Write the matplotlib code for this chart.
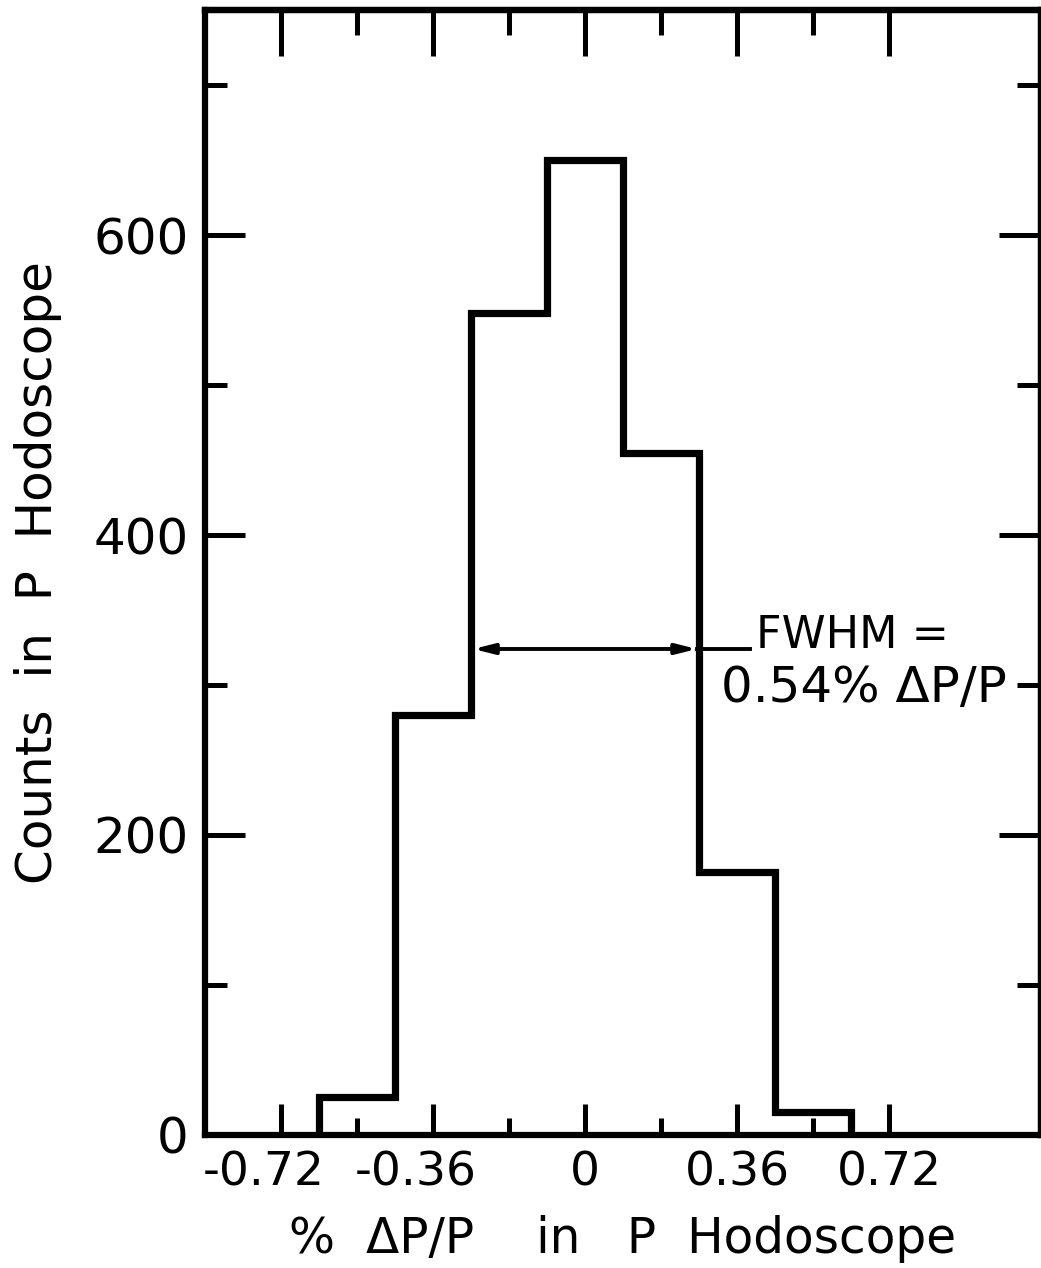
import matplotlib
matplotlib.use("Agg")
import matplotlib.pyplot as plt
import matplotlib.transforms as mtransforms
import numpy as np

plt.rcParams["font.family"] = ["DejaVu Sans"]
plt.rcParams["axes.unicode_minus"] = False

# histogram of momentum spread in the P hodoscope
bin_centers = [-0.54, -0.36, -0.18, 0.0, 0.18, 0.36, 0.54]
counts = [25, 280, 548, 650, 455, 175, 15]
bin_width = 0.18

x_major = [-0.72, -0.36, 0.0, 0.36, 0.72]
x_labels = ["-0.72", "-0.36", "0", "0.36", "0.72"]
x_minor = [-0.54, -0.18, 0.18, 0.54]
y_major = [0, 200, 400, 600]
y_minor = [100, 300, 500, 700]

fwhm_left, fwhm_right, fwhm_y = -0.265, 0.265, 324
fwhm_text = ["FWHM =", "0.54% \u0394P/P"]

edges = np.concatenate([np.array(bin_centers) - bin_width / 2,
                        [bin_centers[-1] + bin_width / 2]])

fig = plt.figure(figsize=(10.41, 12.68), dpi=100)
ax = fig.add_axes([0.197, 0.105, 0.803, 0.887])

ax.stairs(counts, edges, baseline=0, color="black", linewidth=5.2)

ax.set_xlim(-0.9, 1.08)
ax.set_ylim(0, 750)

for s in ax.spines.values():
    s.set_linewidth(4.5)

ax.set_xticks(x_major)
ax.set_xticklabels(x_labels)
ax.set_xticks(x_minor, minor=True)
ax.set_yticks(y_major)
ax.set_yticks(y_minor, minor=True)

ax.tick_params(axis="x", which="major", direction="in", length=22, width=3.6,
               labelsize=34, pad=11)
ax.tick_params(axis="x", which="minor", direction="in", length=12, width=3.6)
ax.tick_params(axis="y", which="major", direction="in", length=29, width=3.6,
               labelsize=36, pad=12)
ax.tick_params(axis="y", which="minor", direction="in", length=16, width=3.6)

# negative labels sit a bit to the left in the original
for lab in ax.get_xticklabels():
    if lab.get_text().startswith("-"):
        lab.set_transform(lab.get_transform() +
                          mtransforms.ScaledTranslation(-0.17, 0, fig.dpi_scale_trans))

# longer ticks on top and right
top = ax.secondary_xaxis("top")
top.set_xticks(x_major)
top.set_xticks(x_minor, minor=True)
top.tick_params(which="major", direction="in", length=33, width=3.6, labeltop=False)
top.tick_params(which="minor", direction="in", length=18, width=3.6)
top.spines["top"].set_linewidth(4.5)

right = ax.secondary_yaxis("right")
right.set_yticks(y_major)
right.set_yticks(y_minor, minor=True)
right.tick_params(which="major", direction="in", length=30, width=3.6, labelright=False)
right.tick_params(which="minor", direction="in", length=17, width=3.6)
right.spines["right"].set_linewidth(4.5)

ax.set_xlabel("%  \u0394P/P    in   P  Hodoscope", fontsize=35, labelpad=14)
ax.set_ylabel("Counts  in  P  Hodoscope", fontsize=36, labelpad=22)

# FWHM marker
ax.annotate("", xy=(fwhm_left, fwhm_y), xytext=(fwhm_right, fwhm_y),
            arrowprops=dict(arrowstyle="<|-|>,head_length=1.2,head_width=0.3",
                            color="black", lw=2.8, shrinkA=0, shrinkB=0))
ax.plot([fwhm_right, 0.39], [fwhm_y, fwhm_y], color="black", lw=2.8)
ax.text(0.405, 333, fwhm_text[0], fontsize=32, va="center", ha="left")
ax.text(0.322, 298, fwhm_text[1], fontsize=36, va="center", ha="left")

fig.savefig("out.png", dpi=100)
